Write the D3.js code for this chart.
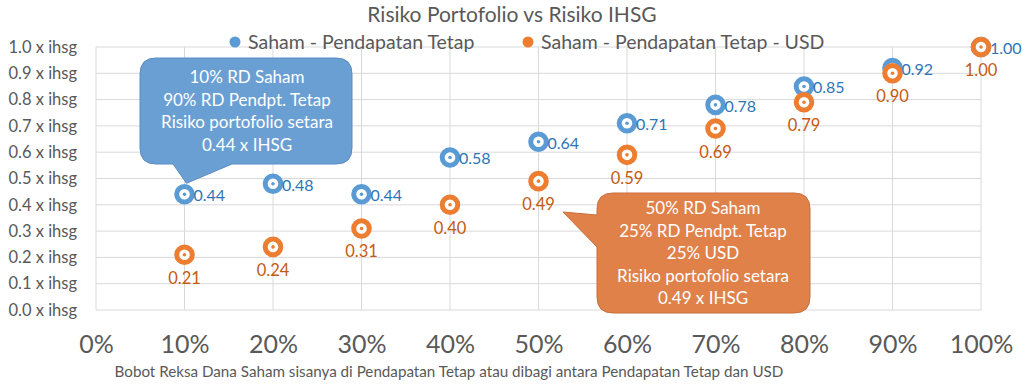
<!DOCTYPE html>
<html>
<head>
<meta charset="utf-8">
<script src="https://d3js.org/d3.v7.min.js"></script>
<style>
  body { margin: 0; background: #fff; }
  svg text { font-family: Lato, "Open Sans", sans-serif; }
</style>
</head>
<body>
<svg id="chart" width="1022" height="391"></svg>
<script>
// data
var bobot = [0.1, 0.2, 0.3, 0.4, 0.5, 0.6, 0.7, 0.8, 0.9, 1.0];
var sahamPT = [0.44, 0.48, 0.44, 0.58, 0.64, 0.71, 0.78, 0.85, 0.92, 1.00];
var sahamPTUSD = [0.21, 0.24, 0.31, 0.40, 0.49, 0.59, 0.69, 0.79, 0.90, 1.00];
var xTicks = [0, 0.1, 0.2, 0.3, 0.4, 0.5, 0.6, 0.7, 0.8, 0.9, 1.0];
var yTicks = [0, 0.1, 0.2, 0.3, 0.4, 0.5, 0.6, 0.7, 0.8, 0.9, 1.0];
var seriesNames = ["Saham - Pendapatan Tetap", "Saham - Pendapatan Tetap - USD"];
var calloutBlue = ["10% RD Saham", "90% RD Pendpt. Tetap", "Risiko portofolio setara", "0.44 x IHSG"];
var calloutOrange = ["50% RD Saham", "25% RD Pendpt. Tetap", "25% USD", "Risiko portofolio setara", "0.49 x IHSG"];

var blue = "#5B9BD5", orange = "#ED7D31";
var blueLbl = "#2E75B6", orangeLbl = "#C55A11";

var svg = d3.select("#chart");
var x = d3.scaleLinear().domain([0, 1]).range([96, 981]);
var y = d3.scaleLinear().domain([0, 1]).range([310, 47]);

// gridlines
svg.append("g").selectAll("line.v")
  .data(xTicks).enter().append("line")
  .attr("x1", d => x(d)).attr("x2", d => x(d))
  .attr("y1", y(0)).attr("y2", y(1))
  .attr("stroke", "#D9D9D9").attr("stroke-width", 1);
svg.append("g").selectAll("line.h")
  .data(yTicks).enter().append("line")
  .attr("x1", x(0)).attr("x2", x(1))
  .attr("y1", d => y(d)).attr("y2", d => y(d))
  .attr("stroke", "#D9D9D9").attr("stroke-width", 1);

// y axis labels
var yAxis = d3.axisLeft(y).tickValues(yTicks).tickSize(0).tickPadding(19)
  .tickFormat(d => d3.format(".1f")(d) + " x ihsg");
svg.append("g").attr("transform", "translate(" + x(0) + ",0)").call(yAxis)
  .call(g => g.select(".domain").remove())
  .selectAll("text").attr("fill", "#595959").style("font-size", "16.5px");

// x axis labels
var xAxis = d3.axisBottom(x).tickValues(xTicks).tickSize(0).tickPadding(25)
  .tickFormat(d3.format(".0%"));
svg.append("g").attr("transform", "translate(0," + y(0) + ")").call(xAxis)
  .call(g => g.select(".domain").remove())
  .selectAll("text").attr("fill", "#595959").style("font-size", "25px");

// title
svg.append("text").attr("x", 512).attr("y", 22).attr("text-anchor", "middle")
  .attr("fill", "#595959").style("font-size", "21px")
  .text("Risiko Portofolio vs Risiko IHSG");

// x axis title
svg.append("text").attr("x", 449).attr("y", 377).attr("text-anchor", "middle")
  .attr("fill", "#595959").style("font-size", "15.2px")
  .text("Bobot Reksa Dana Saham sisanya di Pendapatan Tetap atau dibagi antara Pendapatan Tetap dan USD");

// legend
var legend = svg.append("g");
var legX = [235, 528];
[blue, orange].forEach(function(c, i) {
  legend.append("circle").attr("cx", legX[i]).attr("cy", 42).attr("r", 5.5).attr("fill", c);
  legend.append("text").attr("x", legX[i] + 13).attr("y", 49)
    .attr("fill", "#595959").style("font-size", "19.5px").text(seriesNames[i]);
});

// markers
function drawSeries(vals, color) {
  var g = svg.append("g");
  var pts = g.selectAll("g").data(bobot).enter().append("g")
    .attr("transform", (d, i) => "translate(" + x(d) + "," + y(vals[i]) + ")");
  pts.append("circle").attr("r", 7.8).attr("fill", "#fff")
    .attr("stroke", color).attr("stroke-width", 5);
  pts.append("circle").attr("r", 1.8).attr("fill", color);
}
drawSeries(sahamPT, blue);
drawSeries(sahamPTUSD, orange);

// data labels
svg.append("g").selectAll("text").data(bobot).enter().append("text")
  .attr("x", d => x(d) + 9).attr("y", (d, i) => y(sahamPT[i]) + 7)
  .attr("fill", blueLbl).style("font-size", "16px")
  .text((d, i) => d3.format(".2f")(sahamPT[i]));
svg.append("g").selectAll("text").data(bobot).enter().append("text")
  .attr("x", d => x(d)).attr("y", (d, i) => y(sahamPTUSD[i]) + 29)
  .attr("text-anchor", "middle")
  .attr("fill", orangeLbl).style("font-size", "16.5px")
  .text((d, i) => d3.format(".2f")(sahamPTUSD[i]));

// callouts
function callout(path, fill, stroke, lines, cx, y0, dy) {
  var g = svg.append("g");
  g.append("path").attr("d", path).attr("fill", fill).attr("stroke", stroke).attr("stroke-width", 1);
  g.selectAll("text").data(lines).enter().append("text")
    .attr("x", cx).attr("y", (d, i) => y0 + i * dy)
    .attr("text-anchor", "middle").attr("fill", "#fff").style("font-size", "17px")
    .text(d => d);
}
function roundedWithTail(x0, y0, x1, y1, r, tail) {
  var p = d3.path();
  p.moveTo(x0 + r, y0);
  p.lineTo(x1 - r, y0); p.quadraticCurveTo(x1, y0, x1, y0 + r);
  p.lineTo(x1, y1 - r); p.quadraticCurveTo(x1, y1, x1 - r, y1);
  if (tail.side === "bottom") {
    p.lineTo(tail.b, y1); p.lineTo(tail.tx, tail.ty); p.lineTo(tail.a, y1);
  }
  p.lineTo(x0 + r, y1); p.quadraticCurveTo(x0, y1, x0, y1 - r);
  if (tail.side === "left") {
    p.lineTo(x0, tail.b); p.lineTo(tail.tx, tail.ty); p.lineTo(x0, tail.a);
  }
  p.lineTo(x0, y0 + r); p.quadraticCurveTo(x0, y0, x0 + r, y0);
  p.closePath();
  return p.toString();
}
callout(roundedWithTail(140, 58, 352, 164, 16,
  {side: "bottom", a: 173, b: 232, tx: x(0.1) + 2, ty: y(sahamPT[0]) - 11}),
  "#6A9FD3", "#5A8CC2", calloutBlue, 247, 83, 22.7);
callout(roundedWithTail(597, 193, 810, 313, 16,
  {side: "left", a: 215, b: 247, tx: 563, ty: 212}),
  "#E0814A", "#C96E38", calloutOrange, 703, 214, 22.5);
</script>
</body>
</html>
